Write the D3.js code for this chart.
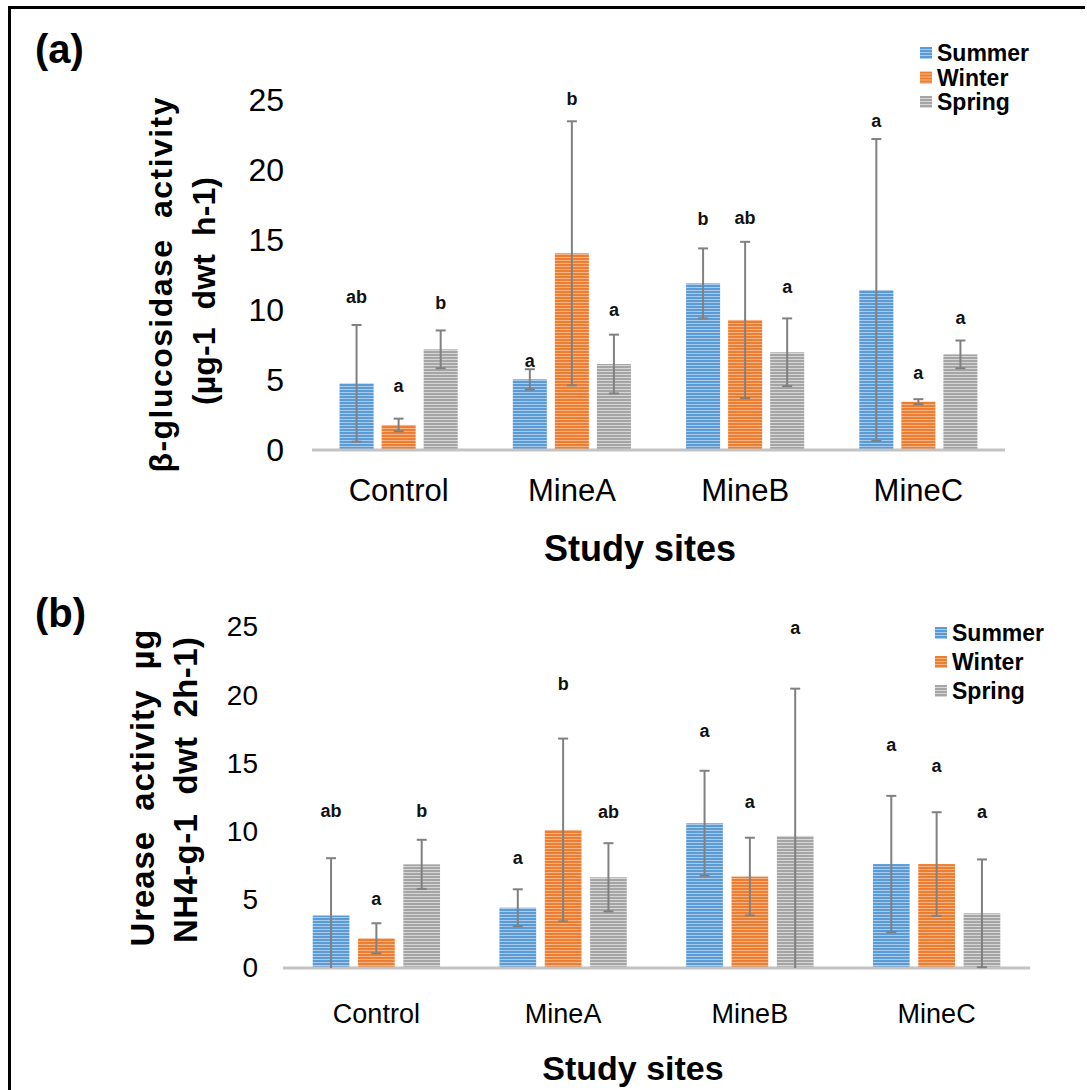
<!DOCTYPE html>
<html>
<head>
<meta charset="utf-8">
<script src="https://cdn.jsdelivr.net/npm/d3@7"></script>
<style>
  html, body { margin: 0; padding: 0; background: #fff; }
  svg { display: block; }
  text { font-family: "Liberation Sans", Arial, sans-serif; }
</style>
</head>
<body>
<div id="chart"></div>
<script>
// Categories and series
const sites = ["Control", "MineA", "MineB", "MineC"];
const seasons = ["Summer", "Winter", "Spring"];
const yTicks = [0, 5, 10, 15, 20, 25];

// (a) beta-glucosidase activity: means, error (+/-), letters, letter height (in y units)
const glucSummer = [4.76, 5.05, 11.9, 11.43];
const glucWinter = [1.79, 14.05, 9.29, 3.45];
const glucSpring = [7.19, 6.14, 6.98, 6.83];
const glucSummerErr = [4.17, 0.72, 2.5, 10.78];
const glucWinterErr = [0.45, 9.43, 5.58, 0.18];
const glucSpringErr = [1.35, 2.1, 2.42, 0.99];
const glucSummerLetters = ["ab", "a", "b", "a"];
const glucWinterLetters = ["a", "b", "ab", "a"];
const glucSpringLetters = ["b", "a", "a", "a"];
const glucSummerLetterAt = [10.93, 6.38, 16.5, 23.57];
const glucWinterLetterAt = [4.64, 25.14, 16.64, 5.52];
const glucSpringLetterAt = [10.57, 10.0, 11.71, 9.45];

// (b) urease activity
const ureSummer = [3.85, 4.42, 10.61, 7.62];
const ureWinter = [2.18, 10.12, 6.7, 7.62];
const ureSpring = [7.6, 6.65, 9.68, 4.01];
const ureSummerErr = [4.2, 1.35, 3.85, 5.0];
const ureWinterErr = [1.1, 6.7, 2.85, 3.8];
const ureSpringErr = [1.8, 2.5, 10.8, 3.95];
const ureSummerLetters = ["ab", "a", "a", "a"];
const ureWinterLetters = ["a", "b", "a", "a"];
const ureSpringLetters = ["b", "ab", "a", "a"];
const ureSummerLetterAt = [11.58, 8.09, 17.38, 16.35];
const ureWinterLetterAt = [5.06, 20.89, 12.19, 14.83];
const ureSpringLetterAt = [11.58, 11.44, 24.93, 11.44];

const seasonColor = { Summer: "#5b9bd5", Winter: "#ed7d31", Spring: "#a5a5a5" };
const seasonStripe = { Summer: "#a9cbee", Winter: "#f6b484", Spring: "#d6d6d6" };

const W = 1087, H = 1090;
const svg = d3.select("#chart").append("svg")
    .attr("width", W)
    .attr("height", H);

// striped fills like the excel pattern
const defs = svg.append("defs");
seasons.forEach(s => {
    const p = defs.append("pattern")
        .attr("id", "pat-" + s)
        .attr("patternUnits", "userSpaceOnUse")
        .attr("width", 6)
        .attr("height", 3);
    p.append("rect").attr("width", 6).attr("height", 3).attr("fill", seasonColor[s]);
    p.append("rect").attr("y", 2).attr("width", 6).attr("height", 1).attr("fill", seasonStripe[s]);
});

// frame (left + top edge)
svg.append("path")
    .attr("d", "M9.5,1090 V7.5 H1085")
    .attr("fill", "none")
    .attr("stroke", "#000")
    .attr("stroke-width", 3);

function buildRows(means, errs, letters, letterAt) {
    return sites.map((site, i) => seasons.map((s, j) => ({
        site: site,
        season: s,
        value: means[j][i],
        err: errs[j][i],
        letter: letters[j][i],
        letterAt: letterAt[j][i]
    }))).flat();
}

function drawPanel(opt) {
    const g = svg.append("g");

    const x = d3.scaleBand()
        .domain(sites)
        .range(opt.xRange)
        .paddingInner(0.318)
        .paddingOuter(0.159);

    const xs = d3.scaleBand()
        .domain(seasons)
        .range([0, x.bandwidth()])
        .paddingInner(0.19);

    const y = d3.scaleLinear()
        .domain([0, 25])
        .range(opt.yRange);

    // y axis labels only
    const yAxis = g.append("g")
        .attr("transform", `translate(${opt.xRange[0]},0)`)
        .call(d3.axisLeft(y).tickValues(yTicks).tickSize(0).tickPadding(opt.yPad));
    yAxis.select(".domain").remove();
    yAxis.selectAll("text")
        .attr("font-family", "'Liberation Sans', Arial, sans-serif")
        .attr("font-size", opt.yFont)
        .attr("fill", "#000");

    // bars
    const rows = opt.rows;
    g.selectAll("rect.bar")
        .data(rows)
        .enter().append("rect")
        .attr("class", "bar")
        .attr("x", d => x(d.site) + xs(d.season))
        .attr("y", d => y(d.value))
        .attr("width", xs.bandwidth())
        .attr("height", d => y(0) - y(d.value))
        .attr("fill", d => `url(#pat-${d.season})`);

    // baseline
    g.append("line")
        .attr("x1", opt.xRange[0])
        .attr("x2", opt.xRange[1])
        .attr("y1", y(0))
        .attr("y2", y(0))
        .attr("stroke", "#c3c3c3")
        .attr("stroke-width", 3);

    // error bars
    const eb = g.selectAll("g.err")
        .data(rows)
        .enter().append("g")
        .attr("class", "err")
        .attr("transform", d => `translate(${x(d.site) + xs(d.season) + xs.bandwidth() / 2},0)`)
        .attr("stroke", "#808080")
        .attr("stroke-width", 2);
    eb.append("line")
        .attr("y1", d => y(d.value + d.err))
        .attr("y2", d => y(Math.max(0, d.value - d.err)));
    eb.append("line")
        .attr("x1", -5).attr("x2", 5)
        .attr("y1", d => y(d.value + d.err))
        .attr("y2", d => y(d.value + d.err));
    eb.filter(d => d.value - d.err > 0).append("line")
        .attr("x1", -5).attr("x2", 5)
        .attr("y1", d => y(d.value - d.err))
        .attr("y2", d => y(d.value - d.err));

    // significance letters
    g.selectAll("text.letter")
        .data(rows)
        .enter().append("text")
        .attr("class", "letter")
        .attr("x", d => x(d.site) + xs(d.season) + xs.bandwidth() / 2)
        .attr("y", d => y(d.letterAt))
        .attr("dy", "0.36em")
        .attr("text-anchor", "middle")
        .attr("font-weight", "bold")
        .attr("font-size", 18)
        .attr("fill", "#111")
        .text(d => d.letter);

    // x axis labels
    const xAxis = g.append("g")
        .attr("transform", `translate(0,${y(0)})`)
        .call(d3.axisBottom(x).tickSize(0).tickPadding(opt.xPad));
    xAxis.select(".domain").remove();
    xAxis.selectAll("text")
        .attr("font-family", opt.xFamily)
        .attr("font-size", opt.xFont)
        .attr("fill", "#000");

    // axis titles
    g.append("text")
        .attr("x", opt.xTitle[0])
        .attr("y", opt.xTitle[1])
        .attr("text-anchor", "middle")
        .attr("font-weight", "bold")
        .attr("font-size", opt.xTitleSize)
        .attr("fill", "#000")
        .text("Study sites");

    opt.yTitle.forEach(t => {
        g.append("text")
            .attr("transform", `translate(${t.x},${t.y}) rotate(-90)`)
            .attr("dy", "0.36em")
            .attr("text-anchor", "middle")
            .attr("font-weight", "bold")
            .attr("font-size", t.size)
            .attr("textLength", t.len)
            .attr("lengthAdjust", "spacing")
            .attr("fill", "#000")
            .style("white-space", "pre")
            .text(t.text);
    });

    // panel label
    g.append("text")
        .attr("x", opt.tag[0])
        .attr("y", opt.tag[1])
        .attr("font-weight", "bold")
        .attr("font-size", 40)
        .attr("fill", "#000")
        .text(opt.tagText);

    // legend
    const lg = g.selectAll("g.legend")
        .data(seasons)
        .enter().append("g")
        .attr("class", "legend")
        .attr("transform", (d, i) => `translate(${opt.legend[0]},${opt.legend[1] + i * opt.legendStep})`);
    lg.append("rect")
        .attr("x", 0).attr("y", -6)
        .attr("width", 12).attr("height", 12)
        .attr("fill", d => `url(#pat-${d})`);
    lg.append("text")
        .attr("x", 17)
        .attr("dy", "0.36em")
        .attr("font-weight", "bold")
        .attr("font-size", 23)
        .attr("fill", "#000")
        .text(d => d);
}

drawPanel({
    rows: buildRows(
        [glucSummer, glucWinter, glucSpring],
        [glucSummerErr, glucWinterErr, glucSpringErr],
        [glucSummerLetters, glucWinterLetters, glucSpringLetters],
        [glucSummerLetterAt, glucWinterLetterAt, glucSpringLetterAt]),
    xRange: [312, 1005],
    yRange: [450, 100],
    yPad: 28, yFont: 32,
    xPad: 29, xFont: 31, xFamily: "'Liberation Sans', Arial, sans-serif",
    xTitle: [640, 561], xTitleSize: 36,
    yTitle: [
        { text: "β-glucosidase  activity", x: 160, y: 285, size: 32, len: 375 },
        { text: "(µg-1  dwt  h-1)", x: 203, y: 291, size: 32, len: 228 }
    ],
    tag: [35, 63], tagText: "(a)",
    legend: [920, 53], legendStep: 24.5
});

drawPanel({
    rows: buildRows(
        [ureSummer, ureWinter, ureSpring],
        [ureSummerErr, ureWinterErr, ureSpringErr],
        [ureSummerLetters, ureWinterLetters, ureSpringLetters],
        [ureSummerLetterAt, ureWinterLetterAt, ureSpringLetterAt]),
    xRange: [283, 1030],
    yRange: [968, 627],
    yPad: 25, yFont: 28,
    xPad: 36, xFont: 27, xFamily: "'Open Sans', 'Noto Sans', sans-serif",
    xTitle: [633, 1080], xTitleSize: 34,
    yTitle: [
        { text: "Urease  activity  µg", x: 142, y: 788, size: 33, len: 317 },
        { text: "NH4-g-1  dwt  2h-1)", x: 185, y: 790, size: 33, len: 306 }
    ],
    tag: [35, 627], tagText: "(b)",
    legend: [935, 633], legendStep: 29
});
</script>
</body>
</html>
